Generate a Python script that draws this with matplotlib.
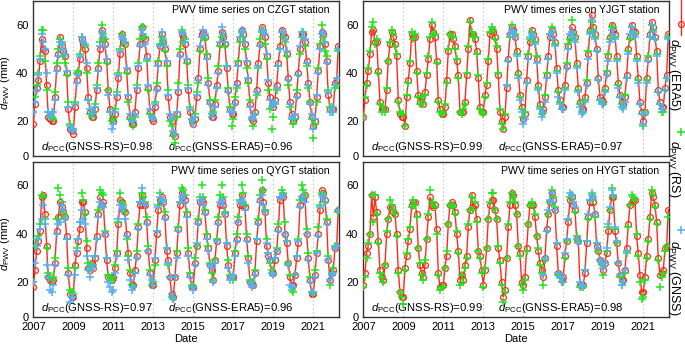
import numpy as np
import matplotlib
matplotlib.use('Agg')
import matplotlib.pyplot as plt
from matplotlib.lines import Line2D

plt.rcParams['font.family'] = ['Liberation Sans', 'DejaVu Sans']
plt.rcParams['mathtext.fontset'] = 'custom'
plt.rcParams['mathtext.rm'] = 'Liberation Sans'
plt.rcParams['mathtext.it'] = 'Liberation Sans:italic'
plt.rcParams['font.size'] = 8

N = np.nan

# monthly series, Jan 2007 .. Apr 2022
czgt_era5 = [19, 27, 34, 37, 45, 54, 50, 49, 35, 22, 21, 20,
             20, 30, 42, 48, 55, 51, 49, 47, 40, 25, 17, 16,
             15, 26, 37, 40, 46, 54, 52, 50, 42, 30, 24, 22,
             22, 25, 33, 42, 50, 58, 54, 52, 45, 33, 25, 21,
             20, 23, 30, 38, 48, 56, 53, 52, 41, 30, 22, 19,
             19, 24, 33, 42, 52, 59, 55, 54, 47, 34, 24, 21,
             20, 26, 34, 44, 51, 56, 53, 50, 44, 30, 22, 20,
             15, 14, 23, 32, 48, 56, 55, 52, 45, 33, 24, 20,
             19, 21, 30, 38, 50, 56, 57, 55, 47, 36, 28, 22,
             22, 27, 35, 41, 52, 57, 55, 52, 42, 33, 25, 23,
             23, 28, 36, 44, 54, 58, 56, 52, 44, 37, 27, 21,
             20, 24, 33, 44, 52, 59, 57, 55, 47, 36, 30, 27,
             26, 29, 35, 44, 51, 58, 56, 55, 48, 38, 28, 23,
             20, 22, 31, 40, 50, 56, 56, 53, 45, 36, 28, 22,
             18, 20, 30, 41, 51, 57, 56, 52, 45, 31, 25, 25,
             25, 36, 37, 51]
czgt_rs = [24, 30, 35, 40, 47, 58, 58, 45, 33, 24, 22, 22,
           21, 32, 44, 50, 54, 53, 47, 44, 39, 28, 19, 17,
           17, 28, 40, 41, 48, 55, 53, 51, 40, 29, 23, 22,
           24, 27, 35, 44, 53, 60, 56, 54, 44, 33, 24, 20,
           21, 25, 32, 40, 50, 56, 54, 52, 40, 28, 21, 20,
           18, 22, 35, 44, 54, 59, 59, 55, 45, 33, 23, 22,
           21, 28, 36, 45, 52, 55, 53, 49, 43, 33, 20, 18,
           14, 11, 22, 36, 50, 58, 53, 54, 44, 35, 26, 21,
           20, 23, 32, 36, 49, 55, 55, 54, 48, 38, 29, 23,
           24, 29, 34, 43, 51, 55, 56, 51, 43, 34, 26, 18,
           21, 30, 34, 45, 53, 57, 55, 50, 42, 36, 29, 21,
           18, 23, 31, 42, 54, 57, 58, 52, 46, 33, 25, 17,
           22, 27, 33, 43, 50, 57, 55, 53, 47, 35, 26, 21,
           19, 21, 33, 39, 48, 55, 57, 51, 43, 34, 28, 21,
           13, 19, 28, 42, 52, 60, 55, 49, 47, 33, 26, 26,
           24, 34, 35, 49]
czgt_gnss = [24, 28, 33, 39, 46, 56, 53, 50, 40, 24, 22, 24,
             24, 29, 41, 47, 53, 52, 50, 48, 41, 26, 18, 17,
             16, 27, 36, 39, 47, 55, 53, 52, 44, 29, 25, 23,
             23, 26, 34, 41, 51, 57, 55, 51, 46, 31, 24, 17,
             19, 24, 31, 39, 49, 55, 54, 53, 42, 31, 23, 20,
             20, 23, 34, 43, 51, 58, 56, 52, 46, 35, 25, 22,
             21, 27, 33, 43, 51, 57, 54, 51, 45, 31, 23, 21,
             16, 15, 24, 33, 47, 57, 56, 53, 46, 34, 25, 21,
             19, 22, 31, 37, 51, 55, 58, 56, 46, 35, 27, 22,
             23, 26, 34, 40, 53, 59, 56, 53, 43, 32, 24, 24,
             24, 27, 35, 43, 55, 58, 57, 53, 45, 38, 26, 22,
             21, 23, 32, 43, 51, 58, 57, 56, 48, 37, 29, 26,
             27, 28, 34, 43, 50, 57, 57, 54, 49, 37, 27, 22,
             21, 23, 30, 39, 51, 57, 55, 54, 44, 35, 27, 23,
             17, 21, 31, 40, 50, 56, 57, 53, 44, 32, 24, 24,
             26, 35, 38, 50]

yjgt_era5 = [22, 29, 36, 41, 48, 57, 58, 53, 53, 41, 28, 25,
             25, 25, 33, 45, 52, 57, 55, 52, 47, 29, 23, 22,
             22, 18, 30, 37, 44, 56, 55, 55, 41, 31, 28, 30,
             27, 32, 39, 46, 54, 60, 57, 55, 45, 29, 25, 23,
             23, 26, 37, 49, 56, 56, 54, 51, 45, 39, 24, 24,
             24, 28, 39, 50, 62, 56, 56, 54, 49, 38, 26, 24,
             24, 31, 35, 45, 56, 58, 57, 55, 50, 39, 24, 20,
             17, 22, 34, 46, 56, 59, 58, 55, 49, 40, 31, 26,
             21, 23, 37, 47, 53, 58, 56, 54, 46, 35, 27, 24,
             25, 30, 39, 47, 55, 58, 56, 53, 42, 33, 29, 26,
             26, 35, 43, 51, 55, 59, 57, 55, 44, 34, 28, 25,
             25, 30, 36, 48, 58, 64, 59, 56, 50, 38, 30, 29,
             28, 34, 40, 47, 55, 60, 58, 56, 47, 36, 31, 28,
             27, 30, 39, 50, 55, 60, 58, 57, 47, 38, 28, 24,
             20, 24, 38, 46, 56, 61, 59, 55, 49, 33, 28, 26,
             26, 34, 39, 56]
yjgt_rs = [22, 30, 35, 42, 49, 59, 61, 52, 54, 40, 27, 24,
           26, 24, 34, 45, 53, 58, 56, 51, 48, 28, 24, 23,
           23, 18, 31, 36, 45, 57, 54, 56, 40, 30, 27, 30,
           27, 31, 40, 47, 55, 61, 56, 56, 44, 28, 24, 23,
           24, 27, 36, 50, 56, 55, 55, 50, 46, 38, 24, 23,
           25, 27, 40, 51, 61, 57, 55, 55, 48, 39, 25, 24,
           23, 30, 36, 46, 57, 59, 58, 54, 51, 40, 25, 19,
           17, 23, 35, 45, 55, 60, 57, 56, 48, 39, 30, 25,
           22, 24, 36, 48, 54, 57, 55, 53, 47, 34, 26, 23,
           24, 31, 40, 46, 56, 59, 57, 52, 41, 32, 28, 25,
           25, 34, 44, 52, 54, 62, 56, 54, 43, 33, 27, 24,
           24, 29, 37, 49, 57, 61, 58, 55, 49, 37, 29, 28,
           27, 33, 41, 48, 54, 59, 59, 55, 46, 35, 30, 27,
           26, 31, 38, 49, 54, 59, 57, 56, 46, 37, 27, 23,
           18, 24, 37, 47, 55, 60, 58, 54, 48, 32, 27, 24,
           24, 33, 38, 55]
yjgt_gnss = [N] * 86 + [
             35, 45, 56, 58, 57, 55, 47, 38, 29, 24,
             19, 21, 36, 46, 55, 56, 55, 52, 44, 33, 25, 22,
             24, 28, 38, 46, 56, 57, 54, 51, 40, 30, 27, 25,
             25, 33, 42, 50, 56, 57, 55, 53, 42, 32, 26, 23,
             24, 28, 35, 46, 56, 62, 57, 54, 49, 37, 29, 27,
             27, 32, 39, 45, 53, 58, 56, 54, 45, 34, 30, 26,
             25, 28, 38, 48, 56, 59, 57, 55, 45, 36, 27, 23,
             19, 23, 36, 45, 55, 60, 57, 54, 47, 32, 27, 25,
             25, 33, 38, 54]

qygt_era5 = [18, 25, 33, 37, 41, 55, 56, 48, 35, 22, 21, 20,
             21, 28, 41, 47, 53, 51, 49, 47, 39, 24, 15, 14,
             14, 27, 32, 37, 42, 53, 53, 49, 34, 26, 25, 28,
             26, 30, 39, 48, 55, 52, 53, 40, 29, 22, 22, 21,
             22, 26, 32, 44, 54, 53, 50, 49, 40, 32, 24, 19,
             19, 25, 31, 43, 52, 56, 52, 52, 45, 33, 24, 19,
             19, 29, 40, 50, 54, 55, 53, 47, 33, 29, 22, 15,
             14, 22, 32, 42, 52, 57, 55, 54, 48, 32, 23, 18,
             18, 28, 35, 45, 53, 54, 53, 49, 39, 34, 27, 25,
             21, 29, 37, 45, 52, 54, 52, 48, 35, 27, 22, 22,
             22, 32, 38, 45, 52, 56, 52, 51, 38, 30, 20, 19,
             19, 24, 37, 45, 54, 58, 53, 49, 35, 31, 29, 24,
             24, 29, 33, 42, 54, 56, 55, 40, 36, 28, 22, 19,
             19, 23, 30, 36, 52, 55, 54, 56, 40, 30, 21, 15,
             15, 23, 32, 40, 50, 58, 57, 54, 45, 29, 21, 24,
             25, 34, 35, 50]
qygt_rs = [20, 35, 38, 39, 44, 56, 55, 46, 34, 24, 22, 21,
           22, 30, 46, 59, 56, 53, 49, 47, 38, 26, 17, 16,
           15, 26, 34, 38, 45, 57, 54, 48, 37, 28, 26, 27,
           27, 31, 38, 50, 58, 57, 56, 41, 30, 23, 21, 22,
           21, 27, 33, 45, 57, 53, 52, 49, 38, 31, 25, 19,
           18, 24, 33, 44, 53, 57, 55, 53, 47, 35, 25, 19,
           20, 27, 41, 52, 57, 54, 54, 49, 34, 27, 22, 14,
           13, 22, 33, 43, 53, 59, 58, 56, 49, 34, 24, 19,
           18, 30, 35, 46, 55, 60, 55, 50, 40, 35, 28, 24,
           21, 29, 38, 47, 56, 60, 55, 49, 36, 29, 23, 22,
           21, 33, 40, 47, 54, 60, 57, 52, 40, 31, 21, 20,
           19, 25, 38, 46, 56, 62, 58, 50, 38, 32, 28, 25,
           24, 30, 34, 44, 55, 58, 57, 45, 37, 28, 23, 17,
           16, 23, 31, 38, 54, 60, 58, 56, 42, 32, 22, 16,
           15, 25, 33, 43, 52, 57, 56, 53, 46, 31, 19, 24,
           26, 35, 35, 49]
qygt_gnss = [20, 28, 35, 38, 42, 46, 52, 44, 27, 22, 17, 16,
             19, 27, 40, 44, 45, 52, 50, 46, 38, 23, 12, 14,
             14, 23, 33, 38, 45, 50, 46, 44, 31, 25, 22, 27,
             26, 31, 38, 47, 53, 52, 51, 40, 30, 20, 18, 16,
             17, 24, 31, 46, 52, 50, 51, 46, 39, 29, 21, 17,
             18, 24, 30, 42, 53, 59, 53, 52, 44, 33, 23, 21,
             19, 30, 41, 51, 55, 54, 53, 46, 34, 28, 22, 15,
             13, 22, 30, 41, 53, 55, 56, 53, 47, 31, 22, 18,
             17, 27, 36, 44, 54, 54, 52, 48, 38, 33, 27, 26,
             20, 28, 37, 44, 53, 54, 52, 48, 36, 26, 21, 22,
             23, 31, 37, 45, 53, 54, 53, 50, 37, 28, 20, 18,
             19, 23, 38, 44, 53, 56, 52, 49, 36, 32, 29, 24,
             23, 30, 33, 41, 55, 55, 56, 40, 37, 27, 19, 18,
             18, 23, 31, 37, 51, 55, 55, 53, 40, 29, 20, 16,
             16, 22, 32, 39, 51, 56, 55, 53, 44, 29, 21, 23,
             24, 34, 35, 50]

hygt_era5 = [19, 24, 32, 35, 40, 56, 47, 55, 49, 37, 25, 22,
             21, 27, 40, 46, 51, 51, 49, 48, 40, 25, 16, 14,
             14, 26, 31, 37, 42, 52, 53, 53, 48, 34, 27, 24,
             22, 27, 38, 47, 55, 52, 51, 52, 42, 24, 18, 19,
             19, 26, 31, 44, 52, 53, 52, 49, 40, 33, 21, 23,
             21, 27, 31, 43, 50, 56, 51, 52, 46, 33, 31, 25,
             19, 25, 34, 46, 52, 54, 54, 50, 46, 34, 29, 20,
             14, 17, 30, 43, 52, 57, 56, 52, 48, 35, 32, 20,
             19, 22, 34, 44, 52, 52, 52, 47, 39, 33, 28, 25,
             22, 30, 42, 48, 53, 57, 54, 50, 35, 24, 23, 21,
             22, 31, 37, 45, 54, 55, 52, 50, 38, 37, 19, 19,
             19, 24, 36, 47, 53, 55, 53, 48, 35, 33, 29, 28,
             25, 28, 32, 41, 50, 55, 55, 41, 36, 28, 23, 21,
             21, 25, 34, 44, 52, 53, 54, 54, 39, 32, 23, 16,
             16, 22, 31, 38, 47, 57, 55, 52, 45, 30, 23, 24,
             25, 34, 35, 50]
hygt_rs = [18, 22, 30, 36, 40, 56, 45, 56, 48, 36, 24, 22,
           20, 27, 41, 46, 54, 52, 50, 48, 39, 24, 16, 14,
           11, 25, 32, 38, 43, 51, 54, 52, 47, 34, 28, 23,
           21, 29, 38, 48, 58, 53, 53, 51, 40, 23, 17, 18,
           18, 26, 33, 44, 52, 52, 51, 48, 41, 32, 19, 23,
           20, 26, 30, 44, 50, 55, 50, 53, 45, 33, 30, 24,
           18, 26, 34, 46, 53, 57, 57, 50, 46, 35, 28, 19,
           12, 16, 30, 44, 53, 57, 55, 53, 48, 35, 31, 19,
           17, 21, 33, 44, 52, 53, 52, 48, 39, 34, 27, 24,
           19, 29, 41, 48, 53, 58, 55, 51, 36, 23, 22, 20,
           20, 30, 37, 46, 55, 56, 53, 49, 39, 37, 18, 19,
           18, 25, 37, 46, 54, 57, 54, 47, 36, 33, 29, 27,
           23, 28, 33, 43, 50, 59, 55, 42, 36, 28, 22, 19,
           20, 24, 32, 43, 52, 56, 55, 54, 40, 31, 20, 13,
           14, 21, 30, 37, 46, 58, 56, 51, 44, 29, 18, 22,
           24, 33, 35, 47]
hygt_gnss = [N] * 108 + [
             23, 30, 41, 50, 54, 57, 53, 50, 36, 24, 22, 20,
             22, 32, 38, 46, 57, 56, 53, 51, 38, 36, 20, 18,
             19, 25, 37, 48, 54, 56, 55, 48, 36, 34, 29, 28,
             26, 28, 34, 44, 51, 58, 56, 43, 37, 28, 23, 19,
             20, 25, 33] + [N] * 25

titles = ['PWV time series on CZGT station', 'PWV times eries on YJGT station',
          'PWV time series on QYGT station', 'PWV time series on HYGT station']
era5 = [czgt_era5, yjgt_era5, qygt_era5, hygt_era5]
rs = [czgt_rs, yjgt_rs, qygt_rs, hygt_rs]
gnss = [czgt_gnss, yjgt_gnss, qygt_gnss, hygt_gnss]
pcc_rs = ['0.98', '0.99', '0.97', '0.99']
pcc_era5 = ['0.96', '0.97', '0.96', '0.98']
year_ticks = list(range(2007, 2023, 2))

t = 2007 + np.arange(len(czgt_era5)) / 12.0

W, H = 685, 346
fig = plt.figure(figsize=(W / 100, H / 100), dpi=100)

ybot, ytop = 5.7, 69.8
boxes = [(33.3, 1, 306, 155), (363.3, 1, 306, 155),
         (33.3, 161.5, 306, 155.5), (363.3, 161.5, 306, 155.5)]

red = '#ff2a1a'
green = '#1ee61e'
blue = '#55b0f5'

for i in range(4):
    x0, y0, w, h = boxes[i]
    ax = fig.add_axes([x0 / W, 1 - (y0 + h) / H, w / W, h / H])
    ax.plot(t, era5[i], '-o', color=red, lw=1.0, ms=4.2, mfc='none', mew=0.9, zorder=3)
    ax.plot(t, rs[i], '+', color=green, ms=6, mew=1.1, zorder=4)
    ax.plot(t, gnss[i], '+', color=blue, ms=6, mew=1.1, zorder=4)

    ax.set_xlim(2007, 2022.3)
    ax.set_ylim(ybot, ytop)
    ax.set_xticks(year_ticks)
    ax.set_yticks([ybot, 20, 40, 60])
    ax.set_yticklabels(['0', '20', '40', '60'], fontsize=8)
    ax.tick_params(length=0, pad=3.5)
    ax.grid(True, axis='x', linestyle=(0, (1.5, 2)), color='#c8c8c8', lw=0.8)
    for s in ax.spines.values():
        s.set_color('#333333')
        s.set_linewidth(1.0)

    if i < 2:
        ax.set_xticklabels([])
    else:
        ax.set_xticklabels([str(y) for y in year_ticks], fontsize=8)
        ax.set_xlabel('Date', fontsize=8, labelpad=1.5)
    if i % 2 == 0:
        ax.set_ylabel(r'$d_{\mathrm{PWV}}$ (mm)', fontsize=8)
        ax.yaxis.set_label_coords(-0.068, 0.47)

    ax.text(0.967, 0.942, titles[i], transform=ax.transAxes, ha='right', va='center', fontsize=7.6)
    ax.text(0.025, 0.057, r'$d_{\mathrm{PCC}}$(GNSS-RS)=' + pcc_rs[i],
            transform=ax.transAxes, ha='left', va='center', fontsize=8.1)
    ax.text(0.44, 0.057, r'$d_{\mathrm{PCC}}$(GNSS-ERA5)=' + pcc_era5[i],
            transform=ax.transAxes, ha='left', va='center', fontsize=8.1)

# vertical legend on the right edge
mx = 680.5 / W
tx = 674.5 / W
fig.add_artist(Line2D([mx, mx], [1 - 0 / H, 1 - 35 / H], color=red, lw=1.0))
fig.add_artist(Line2D([mx], [1 - 24 / H], marker='o', color=red, mfc='none', ms=4.2, mew=0.9))
fig.add_artist(Line2D([mx], [1 - 132 / H], marker='+', color=green, ms=6, mew=1.1, ls='none'))
fig.add_artist(Line2D([mx], [1 - 230 / H], marker='+', color=blue, ms=6, mew=1.1, ls='none'))
fig.text(tx, 1 - 38 / H, r'$d_{\mathrm{PWV}}$ (ERA5)', rotation=270, ha='center', va='top', fontsize=9)
fig.text(tx, 1 - 140 / H, r'$d_{\mathrm{PWV}}$ (RS)', rotation=270, ha='center', va='top', fontsize=9)
fig.text(tx, 1 - 240 / H, r'$d_{\mathrm{PWV}}$ (GNSS)', rotation=270, ha='center', va='top', fontsize=9)

fig.savefig('out.png', dpi=100)
